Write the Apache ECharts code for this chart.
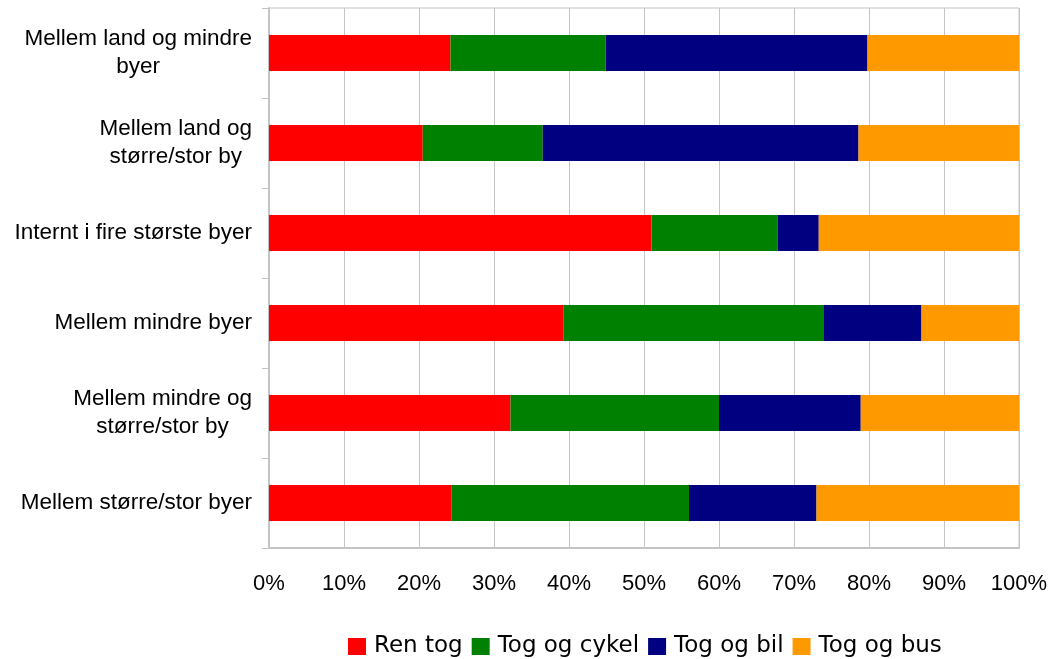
<!DOCTYPE html>
<html>
<head>
<meta charset="utf-8">
<script src="https://cdn.jsdelivr.net/npm/echarts@6/dist/echarts.min.js"></script>
<style>
  html, body { margin: 0; padding: 0; background: #fff; }
  #chart { width: 1060px; height: 659px; }
</style>
</head>
<body>
<div id="chart"></div>
<script>
// categories, top to bottom
var categories = [
  'Mellem land og mindre\nbyer',
  'Mellem land og\nstørre/stor by',
  'Internt i fire største byer',
  'Mellem mindre byer',
  'Mellem mindre og\nstørre/stor by',
  'Mellem større/stor byer'
]
var renTog = [24.2, 20.5, 51.0, 39.3, 32.2, 24.3]
var togOgCykel = [20.7, 16.0, 16.8, 34.7, 27.8, 31.7]
var togOgBil = [34.9, 42.1, 5.5, 13.0, 18.9, 17.0]
var togOgBus = [20.2, 21.4, 26.7, 13.0, 21.1, 27.0]

var font = 'Liberation Sans, Arial, sans-serif'
var gridColor = '#c4c4c4'

var chart = echarts.init(document.getElementById('chart'))

function bar(name, data, color) {
  return {
    name: name,
    type: 'bar',
    stack: 'total',
    barWidth: 36,
    itemStyle: { color: color },
    data: data,
    animation: false
  }
}

chart.setOption({
  backgroundColor: '#fff',
  textStyle: { fontFamily: font },
  grid: {
    left: 269,
    right: 41,
    top: 8,
    bottom: 111,
    show: true,
    borderColor: gridColor,
    borderWidth: 1
  },
  legend: {
    left: 343,
    top: 630,
    itemWidth: 18,
    itemHeight: 17,
    itemGap: 9,
    icon: 'rect',
    textStyle: { fontSize: 23, color: '#000', fontFamily: 'DejaVu Sans', padding: [0, 0, 0, 3] },
    data: ['Ren tog', 'Tog og cykel', 'Tog og bil', 'Tog og bus']
  },
  xAxis: {
    type: 'value',
    min: 0,
    max: 100,
    interval: 10,
    axisLine: { show: true, lineStyle: { color: gridColor, width: 2 } },
    axisTick: { show: false },
    splitLine: { show: true, lineStyle: { color: gridColor, width: 1 } },
    axisLabel: {
      formatter: '{value}%',
      fontSize: 22,
      color: '#000',
      fontFamily: font,
      margin: 25
    }
  },
  yAxis: {
    type: 'category',
    inverse: true,
    data: categories,
    axisLine: { show: true, lineStyle: { color: gridColor, width: 2 } },
    axisTick: { show: true, length: 7, lineStyle: { color: gridColor } },
    splitLine: { show: false },
    axisLabel: {
      margin: 17,
      color: '#000',
      fontSize: 22.5,
      fontFamily: font,
      lineHeight: 28,
      formatter: function (v) {
        return v.split('\n').map(function (s) { return '{c|' + s + '}' }).join('\n')
      },
      rich: {
        c: { align: 'center', fontSize: 22.5, lineHeight: 28, color: '#000', fontFamily: font }
      }
    }
  },
  series: [
    bar('Ren tog', renTog, '#ff0000'),
    bar('Tog og cykel', togOgCykel, '#008000'),
    bar('Tog og bil', togOgBil, '#000080'),
    bar('Tog og bus', togOgBus, '#ff9900')
  ]
})
</script>
</body>
</html>
